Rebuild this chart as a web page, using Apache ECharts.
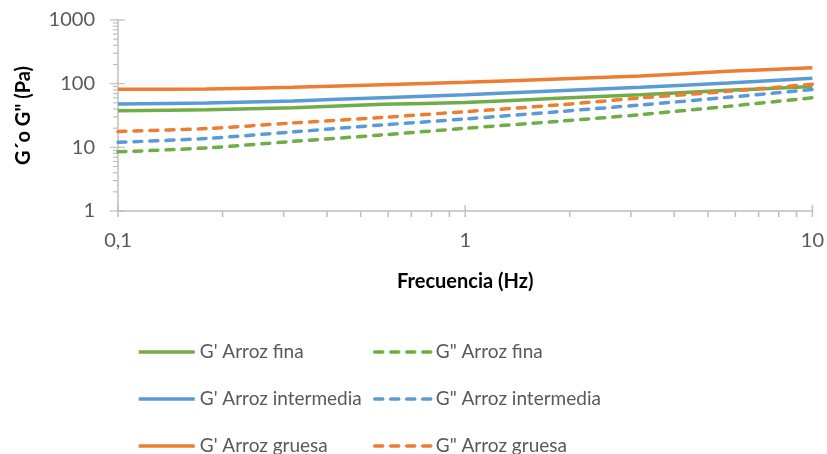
<!DOCTYPE html>
<html>
<head>
<meta charset="utf-8">
<script src="https://cdn.jsdelivr.net/npm/echarts@6/dist/echarts.min.js"></script>
<style>
html,body{margin:0;padding:0;background:#fff;}
#chart{width:827px;height:454px;}
</style>
</head>
<body>
<div id="chart"></div>
<script>
// Frequency (Hz)
const freq = [0.1, 0.18, 0.32, 0.58, 1, 1.85, 3.2, 5.7, 10];
// Moduli (Pa)
const gpFina        = [37.7, 39, 42, 47.3, 50.8, 58.8, 67.2, 78.5, 90];
const gppFina       = [8.5, 9.8, 12.4, 15.7, 19.9, 25.6, 32.6, 44, 60];
const gpIntermedia  = [48, 49.8, 53.5, 60.3, 67, 77.6, 87.5, 102.5, 122];
const gppIntermedia = [12.0, 13.8, 17.5, 22.5, 27.9, 36.3, 46.3, 61, 81];
const gpGruesa      = [81.4, 82.6, 87.5, 96.4, 105, 118.5, 132, 156, 178];
const gppGruesa     = [17.8, 19.7, 24.2, 29.6, 36.3, 46.3, 59.7, 75.7, 98];

const seriesNames = ["G' Arroz fina", 'G" Arroz fina', "G' Arroz intermedia", 'G" Arroz intermedia', "G' Arroz gruesa", 'G" Arroz gruesa'];
const xTickLabels = ['0,1', '1', '10'];
const yTickLabels = ['1', '10', '100', '1000'];
// axis tick values (log axes)
const xMajorTicks = [0.1, 1, 10];
const xMinorTicks = [0.2,0.3,0.4,0.5,0.6,0.7,0.8,0.9,2,3,4,5,6,7,8,9];
const yMajorTicks = [1, 10, 100, 1000];
const yMinorTicks = [2,3,4,5,6,7,8,9,20,30,40,50,60,70,80,90,200,300,400,500,600,700,800,900];

const GREEN = '#70ad47', BLUE = '#5b9bd5', ORANGE = '#ed7d31';
const FONT = 'Lato, "Open Sans", sans-serif';
const TICKCOL = '#bfbfbf';

function pairs(ys){ return freq.map((f,i)=>[f, ys[i]]); }

function lineSeries(name, data, color, dashed){
  return {
    name: name, type: 'line', data: pairs(data), smooth: 0.3,
    showSymbol: false, symbol: 'none',
    lineStyle: {color: color, width: 3.5, type: dashed ? [8, 8] : 'solid', cap: dashed ? 'round' : 'butt'},
    itemStyle: {color: color},
    emphasis: {disabled: true}, silent: true, z: 3
  };
}

const chart = echarts.init(document.getElementById('chart'), null, {renderer: 'canvas'});

const tickSeries = [
  {
    type: 'custom', silent: true, clip: false, z: 2,
    data: xMajorTicks.map(v=>[v, 1, 1]).concat(xMinorTicks.map(v=>[v, 1, 0])),
    renderItem: function(params, api){
      const p = api.coord([api.value(0), api.value(1)]);
      const major = api.value(2) === 1;
      return {type:'line', shape:{x1:p[0], y1: major ? p[1]-6 : p[1], x2:p[0], y2:p[1]+6},
        style:{stroke: TICKCOL, lineWidth: 1.5}};
    }
  },
  {
    type: 'custom', silent: true, clip: false, z: 2,
    data: yMajorTicks.map(v=>[0.1, v, 1]).concat(yMinorTicks.map(v=>[0.1, v, 0])),
    renderItem: function(params, api){
      const p = api.coord([api.value(0), api.value(1)]);
      const major = api.value(2) === 1;
      return {type:'line', shape:{x1: major ? p[0]-8 : p[0]-5, y1:p[1], x2: major ? p[0]+7 : p[0], y2:p[1]},
        style:{stroke: TICKCOL, lineWidth: 1.2}};
    }
  }
];

function legendCol(left, names){
  return {
    orient: 'vertical', left: left, top: 342, height: 140, width: 300, padding: 0,
    itemWidth: 56, itemHeight: 3, itemGap: 27,
    itemStyle: {opacity: 0},
    lineStyle: {width: 3.5},
    data: names,
    textStyle: {fontFamily: FONT, fontSize: 19, color: '#595959', lineHeight: 20},
    selectedMode: false
  };
}

chart.setOption({
  animation: false,
  backgroundColor: '#ffffff',
  grid: {left: 118, right: 12, top: 20, bottom: 243, containLabel: false},
  xAxis: {
    type: 'log', logBase: 10, min: 0.1, max: 10,
    name: 'Frecuencia (Hz)', nameLocation: 'middle', nameGap: 61,
    nameTextStyle: {fontFamily: FONT, fontSize: 20, fontWeight: 'bold', color: '#000'},
    axisLine: {show: true, lineStyle: {color: TICKCOL, width: 1.5}},
    axisTick: {show: false},
    minorTick: {show: false},
    splitLine: {show: false},
    axisLabel: {
      fontFamily: FONT, fontSize: 20, color: '#595959', margin: 20,
      formatter: function(v){ const i = xMajorTicks.findIndex(t=>Math.abs(Math.log10(t)-Math.log10(v))<1e-6); return i>=0 ? xTickLabels[i] : ''; }
    }
  },
  yAxis: {
    type: 'log', logBase: 10, min: 1, max: 1000,
    name: 'G´o G" (Pa)', nameLocation: 'middle', nameGap: 84,
    nameTextStyle: {fontFamily: FONT, fontSize: 20, fontWeight: 'bold', color: '#000'},
    axisLine: {show: true, lineStyle: {color: TICKCOL, width: 1.5}},
    axisTick: {show: false},
    minorTick: {show: false},
    splitLine: {show: false},
    axisLabel: {
      fontFamily: FONT, fontSize: 20, color: '#595959', margin: 23,
      formatter: function(v){ const i = yMajorTicks.findIndex(t=>Math.abs(Math.log10(t)-Math.log10(v))<1e-6); return i>=0 ? yTickLabels[i] : ''; }
    }
  },
  legend: [
    legendCol(137, [seriesNames[0], seriesNames[2], seriesNames[4]]),
    legendCol(373, [seriesNames[1], seriesNames[3], seriesNames[5]])
  ],
  series: tickSeries.concat([
    lineSeries(seriesNames[0], gpFina, GREEN, false),
    lineSeries(seriesNames[1], gppFina, GREEN, true),
    lineSeries(seriesNames[2], gpIntermedia, BLUE, false),
    lineSeries(seriesNames[3], gppIntermedia, BLUE, true),
    lineSeries(seriesNames[4], gpGruesa, ORANGE, false),
    lineSeries(seriesNames[5], gppGruesa, ORANGE, true)
  ])
});
</script>
</body>
</html>
